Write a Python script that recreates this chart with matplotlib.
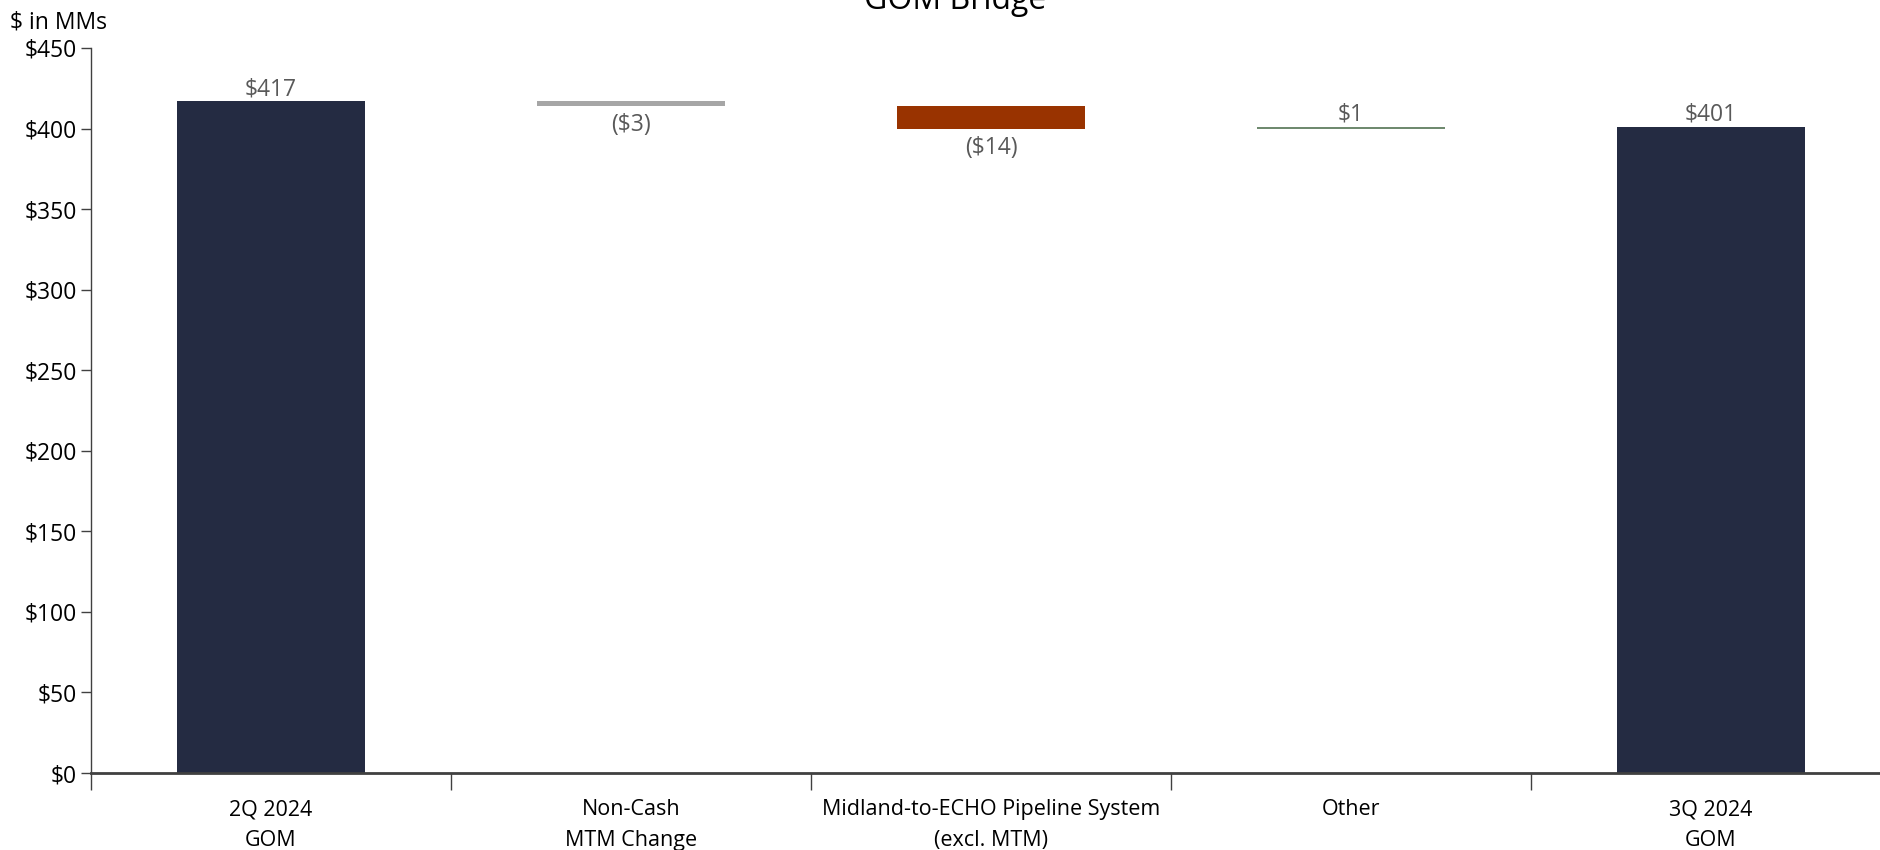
import numpy as np
import matplotlib
matplotlib.use("Agg")
import matplotlib.pyplot as plt

# === Data ===
categories = ["2Q 2024\nGOM", "Non-Cash\nMTM Change",
              "Midland-to-ECHO Pipeline System\n(excl. MTM)", "Other", "3Q 2024\nGOM"]
start_value = 417
deltas = [-3, -14, 1]
end_value = 401
value_labels = ["$417", "($3)", "($14)", "$1", "$401"]
y_ticks = [0, 50, 100, 150, 200, 250, 300, 350, 400, 450]

# === Style ===
plt.rcParams["font.family"] = ["Open Sans", "DejaVu Sans"]
navy = "#242b42"
colors = [navy, "#a6a6a6", "#993300", "#6f8a6f", navy]
label_color = "#595959"
axis_color = "#404040"

# waterfall bottoms / heights
bottoms = [0]
heights = [start_value]
running = start_value
for d in deltas:
    new = running + d
    bottoms.append(min(running, new))
    heights.append(abs(d))
    running = new
bottoms.append(0)
heights.append(end_value)
values = [start_value] + deltas + [end_value]

fig = plt.figure(figsize=(18.8, 8.5), dpi=100)
ax = fig.add_axes([91 / 1880, 77 / 850, 1800 / 1880, 725 / 850])

x = np.arange(len(categories))
ax.bar(x, heights, bottom=bottoms, width=0.52, color=colors, zorder=2)

for i in range(len(categories)):
    top = bottoms[i] + heights[i]
    if values[i] < 0:
        ax.annotate(value_labels[i], (x[i], bottoms[i]), xytext=(0, -5),
                    textcoords="offset points", ha="center", va="top",
                    fontsize=16.5, color=label_color)
    else:
        ax.annotate(value_labels[i], (x[i], top), xytext=(0, 0),
                    textcoords="offset points", ha="center", va="bottom",
                    fontsize=16.5, color=label_color)

ax.set_xlim(-0.5, len(categories) - 0.5)
ax.set_ylim(0, 450)
ax.set_yticks(y_ticks)
ax.set_yticklabels([f"${v}" for v in y_ticks])

# category boundaries get tick marks, labels sit at the centers
ax.set_xticks(np.arange(-0.5, len(categories) - 0.5, 1.0))
ax.set_xticklabels([])
ax.set_xticks(x, minor=True)
ax.set_xticklabels(categories, minor=True, fontsize=15.5, linespacing=1.6)
ax.tick_params(axis="x", which="minor", length=0, pad=19)
ax.tick_params(axis="x", which="major", length=12, width=1, color=axis_color, direction="out")
ax.tick_params(axis="y", length=7, width=1, color=axis_color, labelsize=16.5, pad=3)

for s in ["top", "right"]:
    ax.spines[s].set_visible(False)
ax.spines["left"].set_color(axis_color)
ax.spines["left"].set_linewidth(1)
ax.spines["bottom"].set_color(axis_color)
ax.spines["bottom"].set_linewidth(2)

fig.text(10 / 1880, 1 - 29 / 850, "$ in MMs", fontsize=16.5, ha="left", va="baseline")
fig.text(955 / 1880, 1 - 9 / 850, "GOM Bridge", fontsize=23, ha="center", va="baseline")

fig.savefig("out.png", dpi=100)
